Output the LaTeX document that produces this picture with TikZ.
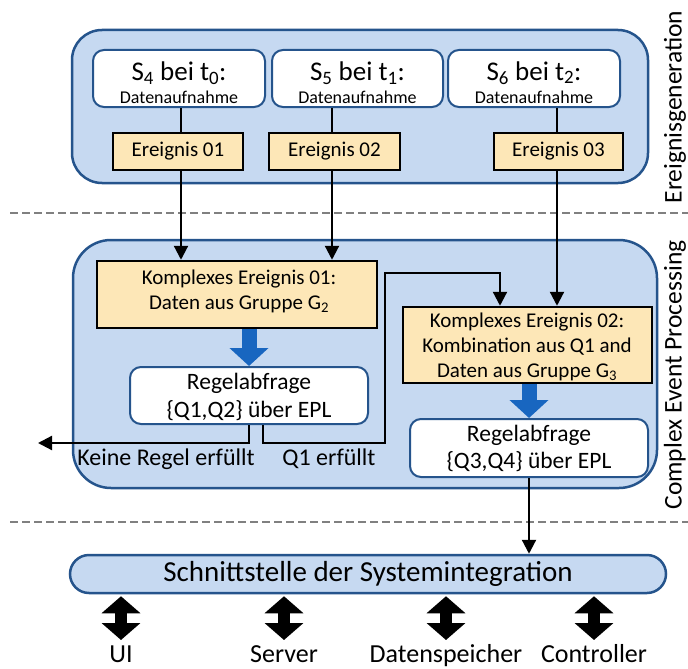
\documentclass[tikz,border=0pt]{standalone}
\usepackage{fontspec}
\setmainfont{Carlito}
\usetikzlibrary{arrows.meta}
\definecolor{bfill}{RGB}{198,217,241}
\definecolor{bline}{RGB}{37,84,140}
\definecolor{ofill}{RGB}{253,231,183}
\definecolor{barrow}{RGB}{24,102,192}
\definecolor{dgray}{RGB}{128,128,128}
\newcommand{\fs}[1]{\fontsize{#1}{#1}\selectfont}
\begin{document}
\begin{tikzpicture}[x=1pt,y=-1pt,
  outer/.style={draw=bline, fill=bfill, line width=2.5pt, rounded corners=#1, inner sep=0pt},
  wbox/.style={draw=bline, fill=white, line width=2pt, rounded corners=11pt, inner sep=0pt},
  obox/.style={draw=black, fill=ofill, line width=2.5pt, inner sep=0pt},
  txt/.style={inner sep=0pt, text=black},
  conn/.style={line width=2.2pt, draw=black},
  arr/.style={conn, -{Triangle[length=14pt,width=14pt]}},
  fat/.style={draw=barrow, line width=15pt, -{Triangle[length=18pt,width=38pt]}},
  dbl/.style={draw=black, line width=12pt, {Triangle[length=17pt,width=38pt]}-{Triangle[length=17pt,width=38pt]}},
  sepline/.style={draw=dgray, line width=2pt, dash pattern=on 8pt off 4pt}
]
\useasboundingbox (0,0) rectangle (688,669);
\fill[white] (0,0) rectangle (688,669);

% separators
\coordinate (d1a) at (10,213); \coordinate (d1b) at (688,213);
\coordinate (d2a) at (10,522); \coordinate (d2b) at (688,522);
\draw[sepline] (d1a) -- (d1b);
\draw[sepline] (d2a) -- (d2b);

% side labels
\node[txt, rotate=90, font=\fs{25.5}] (lgen) at (675,107) {Ereignisgeneration};
\node[txt, rotate=90, font=\fs{25.5}] (lcep) at (675,375) {Complex Event Processing};

% Ereignisgeneration
\node[outer=30pt, minimum width=576pt, minimum height=153pt] (gen) at (360,106.5) {};
\node[wbox, minimum width=172pt, minimum height=57pt] (s4) at (179,78.5) {};
\node[wbox, minimum width=171pt, minimum height=57pt] (s5) at (357.5,78.5) {};
\node[wbox, minimum width=172pt, minimum height=57pt] (s6) at (534,78.5) {};
\node[txt, font=\fs{27}] (s4a) at (179,73) {S\textsubscript{4} bei t\textsubscript{0}:};
\node[txt, font=\fs{18}] (s4b) at (179,97) {Datenaufnahme};
\node[txt, font=\fs{27}] (s5a) at (357.5,73) {S\textsubscript{5} bei t\textsubscript{1}:};
\node[txt, font=\fs{18}] (s5b) at (357.5,97) {Datenaufnahme};
\node[txt, font=\fs{27}] (s6a) at (534,73) {S\textsubscript{6} bei t\textsubscript{2}:};
\node[txt, font=\fs{18}] (s6b) at (534,97) {Datenaufnahme};

\node[obox, minimum width=130pt, minimum height=37pt, font=\fs{21}] (e1) at (178,151.5) {Ereignis 01};
\node[obox, minimum width=131pt, minimum height=37pt, font=\fs{21}] (e2) at (334.5,151.5) {Ereignis 02};
\node[obox, minimum width=129pt, minimum height=37pt, font=\fs{21}] (e3) at (558.5,151.5) {Ereignis 03};

% CEP
\node[outer=38pt, minimum width=584pt, minimum height=248pt] (cep) at (365,364) {};
\node[obox, minimum width=280pt, minimum height=67pt] (ke1) at (237,294.5) {};
\node[txt, font=\fs{21}] (ke1a) at (239,279) {Komplexes Ereignis 01:};
\node[txt, font=\fs{21}] (ke1b) at (239,304) {Daten aus Gruppe G\textsubscript{2}};
\node[wbox, minimum width=238pt, minimum height=57pt] (r1) at (249,395.5) {};
\node[txt, font=\fs{23.5}] (r1a) at (249,383) {Regelabfrage};
\node[txt, font=\fs{23.5}] (r1b) at (249,411) {\{Q1,Q2\} über EPL};

\node[obox, minimum width=249pt, minimum height=76pt] (ke2) at (527.5,345) {};
\node[txt, font=\fs{21}] (ke2a) at (527,322) {Komplexes Ereignis 02:};
\node[txt, font=\fs{21}] (ke2b) at (527,347) {Kombination aus Q1 and};
\node[txt, font=\fs{21}] (ke2c) at (527,372) {Daten aus Gruppe G\textsubscript{3}};
\node[wbox, minimum width=238pt, minimum height=58pt] (r2) at (529,448) {};
\node[txt, font=\fs{23.5}] (r2a) at (529,435) {Regelabfrage};
\node[txt, font=\fs{23.5}] (r2b) at (529,462) {\{Q3,Q4\} über EPL};

\node[txt, font=\fs{24}] (kr) at (166,459) {Keine Regel erfüllt};
\node[txt, font=\fs{24}] (q1l) at (329,459) {Q1 erfüllt};

% Schnittstelle
\node[outer=19pt, minimum width=596pt, minimum height=38pt, font=\fs{29}] (si) at (368,574) {Schnittstelle der Systemintegration};
\node[txt, font=\fs{26}, anchor=base] (ui) at (121,662) {UI};
\node[txt, font=\fs{26}, anchor=base] (srv) at (284,662) {Server};
\node[txt, font=\fs{26}, anchor=base] (dsp) at (446,662) {Datenspeicher};
\node[txt, font=\fs{26}, anchor=base] (ctl) at (594,662) {Controller};

% connectors
\coordinate (l1) at (181,0);
\coordinate (l2) at (332,0);
\coordinate (l3) at (557,0);
\draw[conn] (s4.south -| l1) -- (e1.north -| l1);
\draw[conn] (s5.south -| l2) -- (e2.north -| l2);
\draw[conn] (s6.south -| l3) -- (e3.north -| l3);
\draw[arr] (e1.south -| l1) -- (ke1.north -| l1);
\draw[arr] (e2.south -| l2) -- (ke1.north -| l2);
\draw[arr] (e3.south -| l3) -- (ke2.north -| l3);

\draw[fat] (ke1.south -| r1.north) -- (r1.north);
\draw[fat] (ke2.south -| r2.north) -- (r2.north);

\coordinate (out) at (38,443);
\coordinate (q1a) at (263,443);
\coordinate (q1b) at (385,443);
\coordinate (q1c) at (385,273);
\coordinate (q1d) at (500,273);
\draw[arr] (r1.south) -- (r1.south |- out) -- (out);
\draw[arr] (r1.south -| q1a) -- (q1a) -- (q1b) -- (q1c) -- (q1d) -- (q1d |- ke2.north);

\draw[arr] (r2.south) -- (r2.south |- si.north);

\coordinate (aend) at (0,640);
\draw[dbl] ([yshift=-2pt]si.south -| ui) -- (ui |- aend);
\draw[dbl] ([yshift=-2pt]si.south -| srv) -- (srv |- aend);
\draw[dbl] ([yshift=-2pt]si.south -| dsp) -- (dsp |- aend);
\draw[dbl] ([yshift=-2pt]si.south -| ctl) -- (ctl |- aend);
\end{tikzpicture}
\end{document}
